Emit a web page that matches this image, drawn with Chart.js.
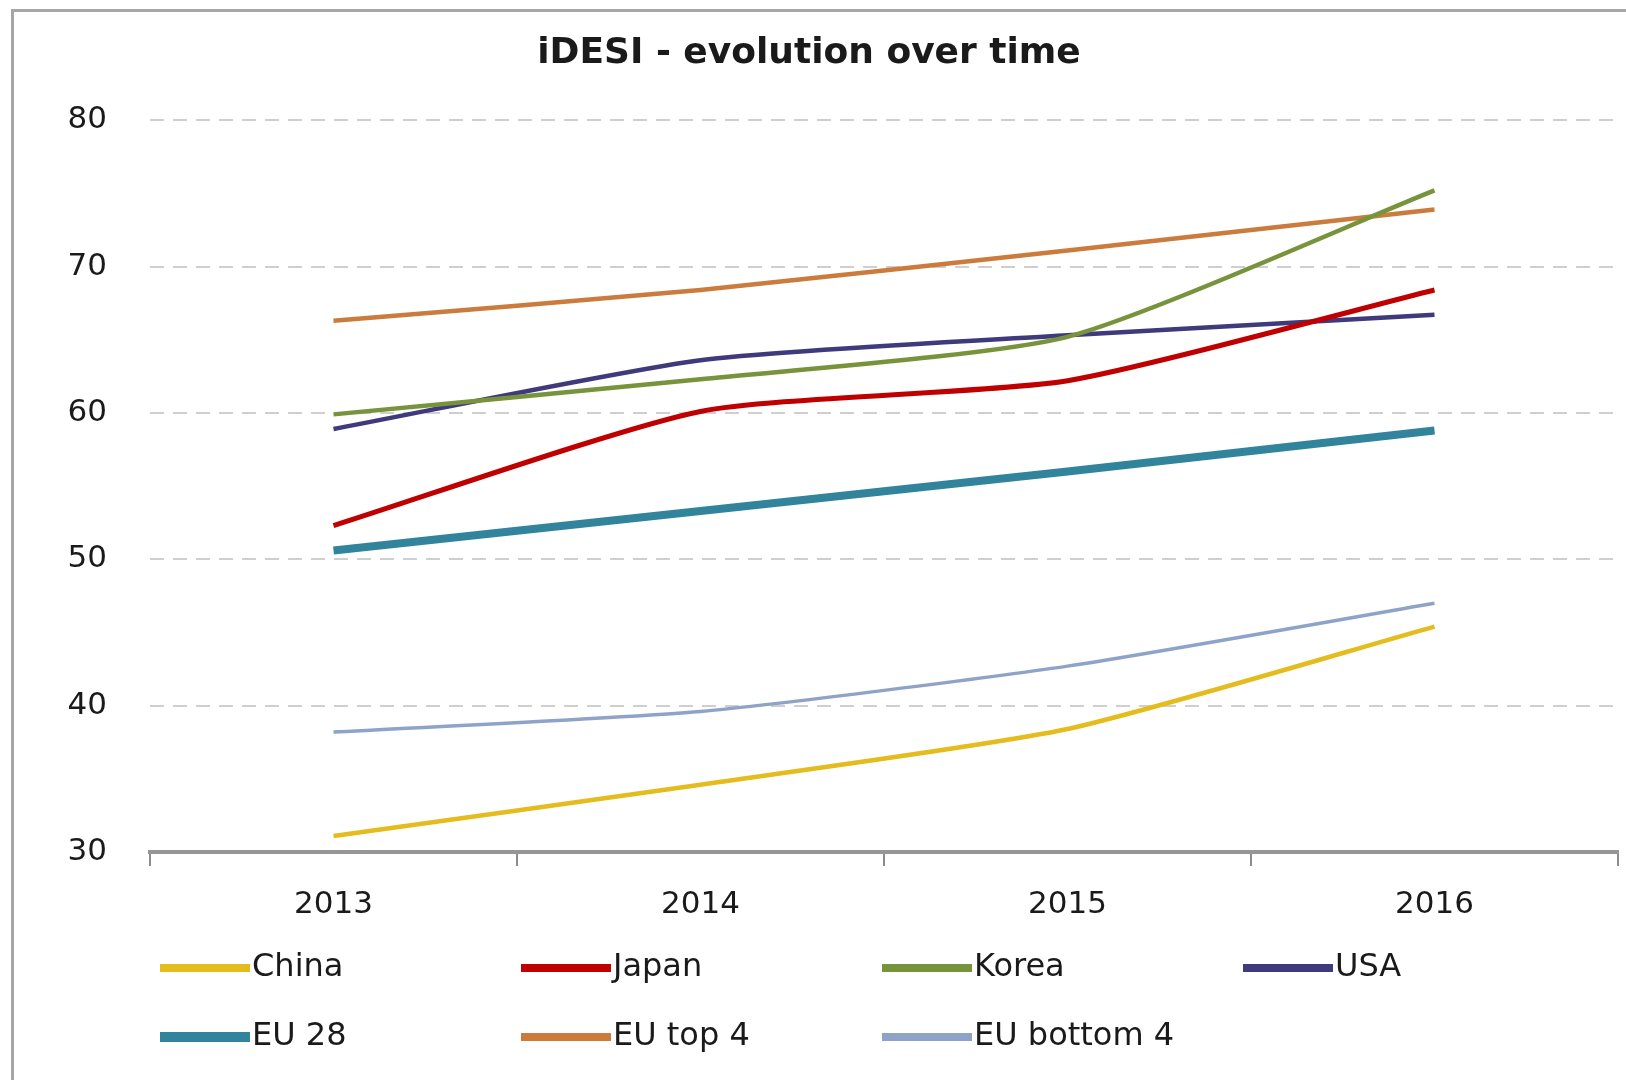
<!DOCTYPE html>
<html lang="en">
<head>
    <meta charset="UTF-8">
    <title>iDESI - evolution over time</title>
    <script src="https://cdn.jsdelivr.net/npm/chart.js"></script>
    <style>
        html, body { margin: 0; padding: 0; background: #fff; overflow: hidden; }
        #marco { position: absolute; left: 11px; top: 9px; width: 1700px; height: 1200px; border: 3px solid #a6a6a6; }
        #contenedor { position: absolute; left: 0; top: 0; width: 1626px; height: 1080px; }
    </style>
</head>
<body>
    <div id="marco"></div>
    <div id="contenedor">
        <canvas id="idesiChart"></canvas>
    </div>

    <script>
        // Datos
        var years = ['2013', '2014', '2015', '2016'];
        var seriesNames = ['China', 'Japan', 'Korea', 'USA', 'EU 28', 'EU top 4', 'EU bottom 4'];
        var china = [31.1, 34.6, 38.4, 45.4];
        var japan = [52.3, 60.1, 62.2, 68.4];
        var korea = [59.9, 62.3, 65.2, 75.2];
        var usa = [58.9, 63.6, 65.3, 66.7];
        var eu28 = [50.6, 53.3, 56.0, 58.8];
        var euTop4 = [66.3, 68.4, 71.1, 73.9];
        var euBottom4 = [38.2, 39.6, 42.7, 47.0];
        var yTicks = [30, 40, 50, 60, 70, 80];

        var colores = ['#E4BC1E', '#C00000', '#77933C', '#3F3A7C', '#31849B', '#CB7B3C', '#8FA3C8'];
        var grosores = [4.5, 5, 4.5, 4.5, 8, 4.5, 3.5];
        var valores = [china, japan, korea, usa, eu28, euTop4, euBottom4];

        var datasets = seriesNames.map(function (nombre, i) {
            return {
                label: nombre,
                data: valores[i],
                borderColor: colores[i],
                backgroundColor: colores[i],
                borderWidth: grosores[i],
                pointRadius: 0,
                tension: 0.2,
                fill: false
            };
        });

        // Leyenda propia en columnas (como en Excel)
        var leyendaColumnas = {
            id: 'leyendaColumnas',
            afterDraw: function (chart) {
                var ctx = chart.ctx;
                var area = chart.chartArea;
                var colW = (area.right - area.left) / years.length - 6;
                var filas = [968, 1037];
                ctx.save();
                ctx.font = '32px "DejaVu Sans"';
                ctx.textBaseline = 'middle';
                ctx.textAlign = 'left';
                chart.data.datasets.forEach(function (ds, i) {
                    var col = i % 4;
                    var fila = Math.floor(i / 4);
                    var x0 = area.left + 10 + col * colW;
                    var y = filas[fila];
                    ctx.strokeStyle = ds.borderColor;
                    ctx.lineWidth = Math.max(8, ds.borderWidth + 2);
                    ctx.beginPath();
                    ctx.moveTo(x0, y);
                    ctx.lineTo(x0 + 90, y);
                    ctx.stroke();
                    ctx.fillStyle = '#1a1a1a';
                    ctx.fillText(ds.label, x0 + 92, y);
                });
                ctx.restore();
            }
        };

        var config = {
            type: 'line',
            data: { labels: years, datasets: datasets },
            options: {
                responsive: true,
                maintainAspectRatio: false,
                animation: false,
                layout: { padding: { top: 0, left: 0, right: 8, bottom: 148 } },
                plugins: {
                    legend: { display: false },
                    tooltip: { enabled: false },
                    title: {
                        display: true,
                        text: 'iDESI - evolution over time',
                        color: '#1a1a1a',
                        font: { family: 'DejaVu Sans', size: 36, weight: 'bold' },
                        padding: { top: 32, bottom: 45 }
                    }
                },
                scales: {
                    x: {
                        offset: true,
                        afterFit: function (s) { s.height = 80; },
                        grid: {
                            offset: true,
                            drawOnChartArea: false,
                            drawTicks: true,
                            tickLength: 14,
                            color: '#8c8c8c',
                            lineWidth: 2
                        },
                        border: { display: true, color: '#969696', width: 4 },
                        ticks: {
                            color: '#1a1a1a',
                            padding: 20,
                            maxRotation: 0,
                            font: { family: 'DejaVu Sans', size: 31 }
                        }
                    },
                    y: {
                        min: 30,
                        max: 80,
                        afterFit: function (s) { s.width = 150; },
                        afterBuildTicks: function (s) {
                            s.ticks = yTicks.map(function (v) { return { value: v }; });
                        },
                        grid: {
                            drawTicks: false,
                            color: function (c) { return c.tick.value === 30 ? 'rgba(0,0,0,0)' : '#cfcfcf'; },
                            lineWidth: 2
                        },
                        border: { display: false, dash: [14, 9] },
                        ticks: {
                            color: '#1a1a1a',
                            padding: 43,
                            font: { family: 'DejaVu Sans', size: 31 }
                        }
                    }
                }
            },
            plugins: [leyendaColumnas]
        };

        var idesiChart = new Chart(document.getElementById('idesiChart'), config);
    </script>
</body>
</html>
